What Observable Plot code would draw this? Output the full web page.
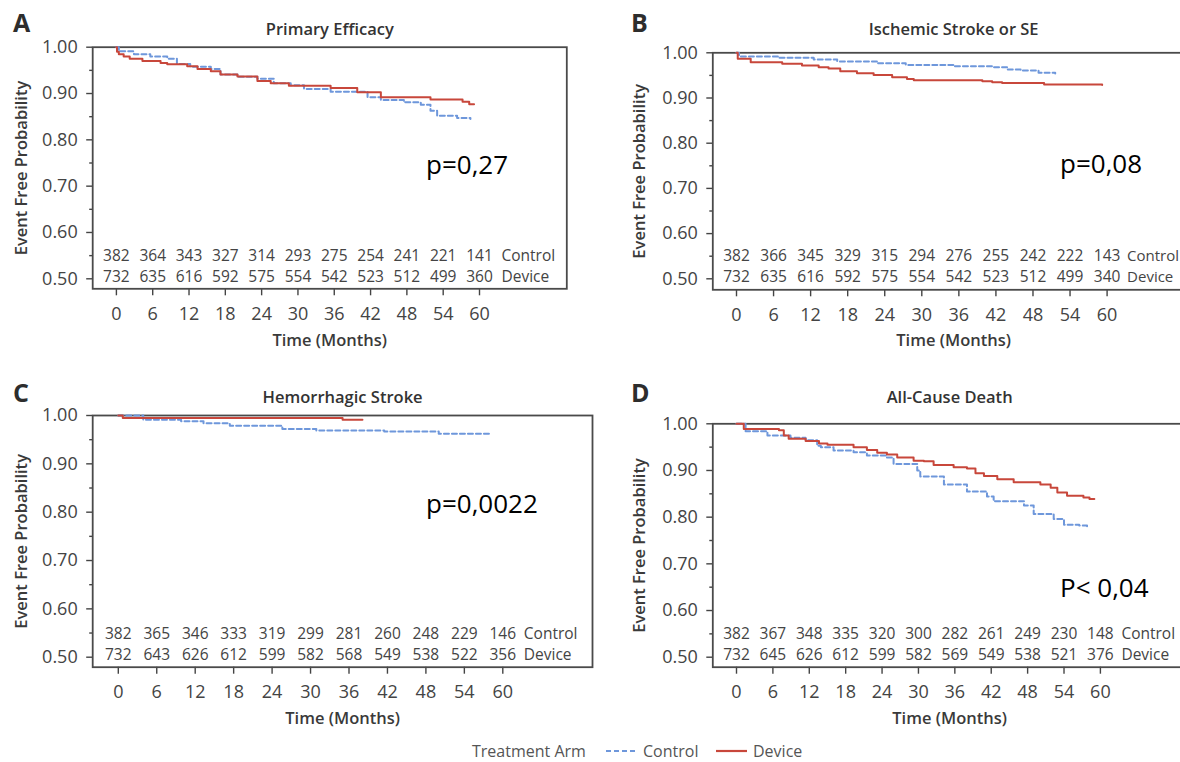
<!DOCTYPE html>
<html><head><meta charset="utf-8">
<script src="https://cdn.jsdelivr.net/npm/d3@7"></script>
<script src="https://cdn.jsdelivr.net/npm/@observablehq/plot@0.6"></script>
<style>
html,body{margin:0;padding:0;background:#fff;}
#root{position:relative;width:1180px;height:762px;overflow:hidden;background:#fff;}
</style></head>
<body><div id="root"></div>
<script>
// ---------- DATA ----------
const months = [0, 6, 12, 18, 24, 30, 36, 42, 48, 54, 60];
const yMajor = [0.5, 0.6, 0.7, 0.8, 0.9, 1.0];
const yMinor = [0.55, 0.65, 0.75, 0.85, 0.95];

const panelLetters = ["A", "B", "C", "D"];
const panelTitles = ["Primary Efficacy", "Ischemic Stroke or SE", "Hemorrhagic Stroke", "All-Cause Death"];
const pValues = ["p=0,27", "p=0,08", "p=0,0022", "P< 0,04"];
const armNames = ["Control", "Device"];
const legendTitle = "Treatment Arm";
const xLabel = "Time (Months)";
const yLabel = "Event Free Probability";

// numbers at risk
const riskA_control = [382, 364, 343, 327, 314, 293, 275, 254, 241, 221, 141];
const riskA_device  = [732, 635, 616, 592, 575, 554, 542, 523, 512, 499, 360];
const riskB_control = [382, 366, 345, 329, 315, 294, 276, 255, 242, 222, 143];
const riskB_device  = [732, 635, 616, 592, 575, 554, 542, 523, 512, 499, 340];
const riskC_control = [382, 365, 346, 333, 319, 299, 281, 260, 248, 229, 146];
const riskC_device  = [732, 643, 626, 612, 599, 582, 568, 549, 538, 522, 356];
const riskD_control = [382, 367, 348, 335, 320, 300, 282, 261, 249, 230, 148];
const riskD_device  = [732, 645, 626, 612, 599, 582, 569, 549, 538, 521, 376];

// Kaplan-Meier curves: time (months) and event-free probability (step after)
const kmA_controlT = [0, 0.4, 2.9, 5.6, 8.4, 10.0, 12.2, 15.6, 17.2, 20.0, 23.3, 26.0, 28.8, 31.0, 35.4, 41.5, 43.7, 47.5, 50.3, 51.9, 53.0, 56.3, 58.5];
const kmA_controlS = [1.0, 0.991, 0.985, 0.98, 0.975, 0.964, 0.958, 0.953, 0.941, 0.936, 0.932, 0.922, 0.918, 0.910, 0.904, 0.892, 0.886, 0.881, 0.876, 0.863, 0.852, 0.847, 0.845];
const kmA_deviceT = [0, 0.1, 0.4, 1.2, 2.2, 4.3, 7.3, 8.4, 11.7, 13.4, 15.6, 17.2, 20.0, 23.3, 25.5, 28.5, 35.4, 39.8, 43.7, 51.9, 57.2, 58.3, 59.1];
const kmA_deviceS = [1.0, 0.99, 0.985, 0.98, 0.975, 0.97, 0.966, 0.963, 0.959, 0.953, 0.948, 0.941, 0.937, 0.927, 0.922, 0.917, 0.912, 0.903, 0.892, 0.887, 0.882, 0.877, 0.877];

const kmB_controlT = [0, 0.4, 6.8, 12.5, 16.3, 22.8, 27.4, 35.2, 41.4, 43.8, 46.0, 48.9, 51.6];
const kmB_controlS = [1.0, 0.992, 0.989, 0.985, 0.981, 0.977, 0.973, 0.970, 0.968, 0.963, 0.961, 0.956, 0.954];
const kmB_deviceT = [0, 0.2, 2.3, 7.4, 10.6, 13.3, 14.9, 16.8, 19.5, 22.2, 25.2, 27.6, 28.7, 39.8, 41.4, 43.0, 49.8, 59.2];
const kmB_deviceS = [1.0, 0.987, 0.979, 0.976, 0.972, 0.968, 0.965, 0.959, 0.955, 0.951, 0.946, 0.942, 0.939, 0.937, 0.935, 0.933, 0.930, 0.929];

const kmC_controlT = [0, 3.9, 9.8, 13.3, 17.4, 25.6, 30.9, 41.5, 50.0, 58.2];
const kmC_controlS = [1.0, 0.991, 0.988, 0.984, 0.979, 0.972, 0.969, 0.967, 0.962, 0.961];
const kmC_deviceT = [0, 0.7, 35.0, 38.1];
const kmC_deviceS = [1.0, 0.995, 0.991, 0.991];

const kmD_controlT = [0, 1.5, 5.1, 8.9, 11.4, 13.3, 13.9, 16.0, 19.3, 21.5, 24.8, 25.9, 29.8, 30.3, 34.2, 38.0, 41.3, 42.4, 47.4, 49.0, 52.3, 54.0, 56.5, 57.8];
const kmD_controlS = [1.0, 0.984, 0.975, 0.970, 0.965, 0.953, 0.950, 0.943, 0.939, 0.932, 0.928, 0.914, 0.900, 0.887, 0.870, 0.855, 0.844, 0.834, 0.825, 0.807, 0.796, 0.784, 0.782, 0.780];
const kmD_deviceT = [0, 1.2, 7.0, 7.8, 8.6, 11.4, 13.6, 15.0, 19.3, 21.5, 23.2, 24.8, 26.5, 29.2, 30.9, 32.5, 35.8, 38.0, 39.4, 40.8, 43.0, 45.7, 50.1, 51.8, 52.9, 54.5, 57.2, 58.2, 59.0];
const kmD_deviceS = [1.0, 0.989, 0.986, 0.975, 0.968, 0.963, 0.958, 0.955, 0.950, 0.944, 0.938, 0.934, 0.928, 0.921, 0.920, 0.912, 0.907, 0.904, 0.894, 0.888, 0.881, 0.875, 0.870, 0.863, 0.853, 0.846, 0.842, 0.839, 0.839];

const panels = [
  {controlT: kmA_controlT, controlS: kmA_controlS, deviceT: kmA_deviceT, deviceS: kmA_deviceS, riskC: riskA_control, riskD: riskA_device},
  {controlT: kmB_controlT, controlS: kmB_controlS, deviceT: kmB_deviceT, deviceS: kmB_deviceS, riskC: riskB_control, riskD: riskB_device},
  {controlT: kmC_controlT, controlS: kmC_controlS, deviceT: kmC_deviceT, deviceS: kmC_deviceS, riskC: riskC_control, riskD: riskC_device},
  {controlT: kmD_controlT, controlS: kmD_controlS, deviceT: kmD_deviceT, deviceS: kmD_deviceS, riskC: riskD_control, riskD: riskD_device}
];

// ---------- LAYOUT (pixel placement of each panel) ----------
const layout = [
  {ox: 0,   oy: 0,   w: 590, h: 365, frameL: 92.2,  frameR: 566.3, frameT: 46.7,  frameB: 288.3, x0: 115.9, x60: 479.0,  y1: 46.7,  y05: 278.3, titleY: 29,  xlabY: 340, ylabX: 21,  riskDy: [-33, -12],   labDx: 22, labFont: 15.5, pX: 426,  pY: 174, letX: 13,  letY: 32},
  {ox: 590, oy: 0,   w: 610, h: 365, frameL: 712.3, frameR: 1194,  frameT: 52.3,  frameB: 289.3, x0: 736,   x60: 1106.6, y1: 52.3,  y05: 278.3, titleY: 29,  xlabY: 340, ylabX: 639, riskDy: [-34, -13],   labDx: 20, labFont: 15,   pX: 1060, pY: 173, letX: 631, letY: 32},
  {ox: 0,   oy: 370, w: 600, h: 375, frameL: 92.2,  frameR: 592,   frameT: 415,   frameB: 666.7, x0: 117.8, x60: 502.3,  y1: 415,   y05: 656.7, titleY: 397, xlabY: 718, ylabX: 21,  riskDy: [-33, -12.5], labDx: 21, labFont: 15.5, pX: 426,  pY: 513, letX: 13,  letY: 402},
  {ox: 590, oy: 370, w: 610, h: 375, frameL: 712.3, frameR: 1186,  frameT: 423.3, frameB: 666.7, x0: 736,   x60: 1099.9, y1: 423.3, y05: 656.7, titleY: 397, xlabY: 718, ylabX: 639, riskDy: [-33, -12.5], labDx: 21, labFont: 15.5, pX: 1060, pY: 597, letX: 631, letY: 402}
];

const COL_CONTROL = "#6e97db";
const COL_DEVICE = "#c8473b";
const FONT = '"Open Sans", sans-serif';
const root = document.getElementById("root");

function makePanel(idx) {
  const L = layout[idx], d = panels[idx];
  const fl = L.frameL - L.ox, fr = L.frameR - L.ox, ft = L.frameT - L.oy, fb = L.frameB - L.oy;
  const k = (L.x60 - L.x0) / 60;
  const ky = (L.y05 - L.y1) / 0.5;
  const xDomain = [(L.frameL - L.x0) / k, (L.frameR - L.x0) / k];
  const yDomain = [0.5 - (L.frameB - L.y05) / ky, 1 + (L.y1 - L.frameT) / ky];
  const ctrl = d.controlT.map((t, i) => ({t, s: d.controlS[i]}));
  const dev = d.deviceT.map((t, i) => ({t, s: d.deviceS[i]}));
  const lastTick = months[months.length - 1];

  const chart = Plot.plot({
    width: L.w, height: L.h,
    marginLeft: fl, marginRight: L.w - fr, marginTop: ft, marginBottom: L.h - fb,
    x: {domain: xDomain},
    y: {domain: yDomain},
    style: {fontFamily: FONT, color: "#444", background: "transparent", overflow: "visible"},
    marks: [
      Plot.axisY(yMajor, {tickSize: 6, tickPadding: 9, tickFormat: (v) => v.toFixed(2), fontSize: 18, label: null, strokeWidth: 1.4}),
      Plot.axisY(yMinor, {tickSize: 3, tickFormat: () => "", label: null, strokeWidth: 1.4}),
      Plot.axisX(months, {tickSize: 7, tickPadding: 11, fontSize: 18, label: null, strokeWidth: 1.4}),
      Plot.frame({stroke: "#4a4a4a", strokeWidth: 1.8}),
      Plot.line(ctrl, {x: "t", y: "s", curve: "step-after", stroke: COL_CONTROL, strokeWidth: 2, strokeDasharray: "5,3"}),
      Plot.line(dev, {x: "t", y: "s", curve: "step-after", stroke: COL_DEVICE, strokeWidth: 2}),
      Plot.text(d.riskC, {x: (v, i) => months[i], text: (v) => String(v), frameAnchor: "bottom", dy: L.riskDy[0], textAnchor: "middle", lineAnchor: "middle", fontSize: 15.5}),
      Plot.text(d.riskD, {x: (v, i) => months[i], text: (v) => String(v), frameAnchor: "bottom", dy: L.riskDy[1], textAnchor: "middle", lineAnchor: "middle", fontSize: 15.5}),
      Plot.text([armNames[0]], {x: () => lastTick, text: (v) => v, frameAnchor: "bottom", dx: L.labDx, dy: L.riskDy[0], textAnchor: "start", lineAnchor: "middle", fontSize: L.labFont}),
      Plot.text([armNames[1]], {x: () => lastTick, text: (v) => v, frameAnchor: "bottom", dx: L.labDx, dy: L.riskDy[1], textAnchor: "start", lineAnchor: "middle", fontSize: L.labFont}),
      Plot.text([panelTitles[idx]], {text: (v) => v, frameAnchor: "top", dy: L.titleY - L.frameT, textAnchor: "middle", lineAnchor: "middle", fontSize: 16.5, fontWeight: 600, fill: "#333"}),
      Plot.text([xLabel], {text: (v) => v, frameAnchor: "bottom", dy: L.xlabY - L.frameB, textAnchor: "middle", lineAnchor: "middle", fontSize: 16.5, fontWeight: 600, fill: "#3a3a3a"}),
      Plot.text([yLabel], {text: (v) => v, frameAnchor: "left", rotate: -90, dx: L.ylabX - L.frameL, textAnchor: "middle", lineAnchor: "middle", fontSize: 16.5, fontWeight: 600, fill: "#3a3a3a"})
    ]
  });
  chart.style.position = "absolute";
  chart.style.left = L.ox + "px";
  chart.style.top = L.oy + "px";
  root.appendChild(chart);
}

for (let i = 0; i < 4; i++) makePanel(i);

// ---------- overlay: panel letters, p-values, legend ----------
const ov = d3.create("svg").attr("width", 1180).attr("height", 762)
  .style("position", "absolute").style("left", "0px").style("top", "0px")
  .style("font-family", FONT).style("pointer-events", "none");
layout.forEach((L, i) => {
  ov.append("text").attr("x", L.letX).attr("y", L.letY).attr("font-size", 25).attr("font-weight", 700).attr("fill", "#2d2d2d").text(panelLetters[i]);
  ov.append("text").attr("x", L.pX).attr("y", L.pY).attr("font-size", 26).attr("fill", "#000").text(pValues[i]);
});
const lg = ov.append("g").attr("font-size", 16).attr("fill", "#555");
lg.append("text").attr("x", 472).attr("y", 756.5).text(legendTitle);
lg.append("line").attr("x1", 606).attr("x2", 638).attr("y1", 751).attr("y2", 751).attr("stroke", COL_CONTROL).attr("stroke-width", 2).attr("stroke-dasharray", "5,3");
lg.append("text").attr("x", 643).attr("y", 756.5).text(armNames[0]);
lg.append("line").attr("x1", 716).attr("x2", 747).attr("y1", 751).attr("y2", 751).attr("stroke", COL_DEVICE).attr("stroke-width", 2.2);
lg.append("text").attr("x", 753).attr("y", 756.5).text(armNames[1]);
root.appendChild(ov.node());
</script></body></html>
